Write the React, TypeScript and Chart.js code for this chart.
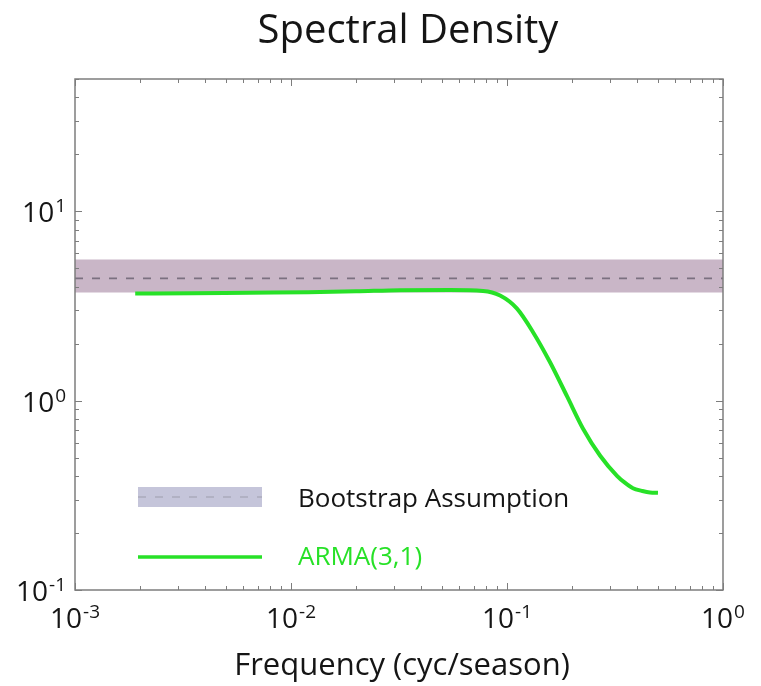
import React, { useEffect, useRef } from "react";
import { Chart, registerables } from "chart.js";

Chart.register(...registerables);

// ---- data ----
const X_MIN = 0.001;
const X_MAX = 1;
const Y_MIN = 0.1;
const Y_MAX = 50;

const xTickExponents = [-3, -2, -1, 0];
const yTickExponents = [-1, 0, 1];

const bootstrapLower = 3.73;
const bootstrapMean = 4.42;
const bootstrapUpper = 5.57;

const armaFreq = [0.0019, 0.0035, 0.00645, 0.012, 0.02, 0.032, 0.0545, 0.0775, 0.0929, 0.111, 0.132, 0.158, 0.19, 0.225, 0.27, 0.323, 0.35, 0.383, 0.42, 0.459, 0.5];
const armaValues = [3.68, 3.69, 3.72, 3.74, 3.78, 3.83, 3.84, 3.8, 3.59, 3.07, 2.3, 1.6, 1.05, 0.711, 0.512, 0.401, 0.37, 0.345, 0.334, 0.327, 0.326];

const titleText = "Spectral Density";
const xAxisTitle = "Frequency (cyc/season)";
const legendLabels = ["Bootstrap Assumption", "ARMA(3,1)"];

const FONT = "'Open Sans', 'DejaVu Sans', sans-serif";
const GREEN = "#27e127";
const BAND = "#c9b6c7";
const SWATCH = "#c5c5da";

function drawPow(ctx: CanvasRenderingContext2D, exp: number, xPos: number, baseline: number, align: "center" | "right") {
  const main = "10";
  const sup = String(exp);
  ctx.font = `28px ${FONT}`;
  const wMain = ctx.measureText(main).width;
  ctx.font = `19px ${FONT}`;
  const wSup = ctx.measureText(sup).width;
  const total = wMain + 1 + wSup;
  const start = align === "center" ? xPos - total / 2 : xPos - total;
  ctx.textAlign = "left";
  ctx.textBaseline = "alphabetic";
  ctx.fillStyle = "#151515";
  ctx.font = `28px ${FONT}`;
  ctx.fillText(main, start, baseline);
  ctx.font = `19px ${FONT}`;
  ctx.fillText(sup, start + wMain + 1, baseline - 10);
}

const decoPlugin = {
  id: "deco",
  afterDatasetsDraw(chart: any) {
    const { ctx, chartArea, scales } = chart;
    const { left, right, top, bottom } = chartArea;
    const xs = scales.x;
    const ys = scales.y;
    ctx.save();
    // frame
    ctx.strokeStyle = "#7d7d7d";
    ctx.lineWidth = 1.5;
    ctx.strokeRect(left, top, right - left, bottom - top);
    // x ticks
    ctx.lineWidth = 1;
    for (let e = -3; e <= 0; e++) {
      for (let m = 1; m <= 9; m++) {
        const v = m * Math.pow(10, e);
        if (v < X_MIN - 1e-12 || v > X_MAX + 1e-12) continue;
        const px = Math.round(xs.getPixelForValue(v)) + 0.5;
        const len = m === 1 ? 7 : 4;
        ctx.beginPath();
        ctx.moveTo(px, bottom);
        ctx.lineTo(px, bottom - len);
        ctx.moveTo(px, top);
        ctx.lineTo(px, top + len);
        ctx.stroke();
      }
    }
    // y ticks
    for (let e = -1; e <= 1; e++) {
      for (let m = 1; m <= 9; m++) {
        const v = m * Math.pow(10, e);
        if (v < Y_MIN - 1e-12 || v > Y_MAX + 1e-12) continue;
        const py = Math.round(ys.getPixelForValue(v)) + 0.5;
        const len = m === 1 ? 7 : 4;
        ctx.beginPath();
        ctx.moveTo(left, py);
        ctx.lineTo(left + len, py);
        ctx.moveTo(right, py);
        ctx.lineTo(right - len, py);
        ctx.stroke();
      }
    }
    // tick labels
    xTickExponents.forEach((e) => {
      drawPow(ctx, e, xs.getPixelForValue(Math.pow(10, e)), bottom + 38, "center");
    });
    yTickExponents.forEach((e) => {
      drawPow(ctx, e, left - 9, ys.getPixelForValue(Math.pow(10, e)) + 11, "right");
    });

    // legend
    const lx0 = left + 63;
    const lx1 = left + 187;
    ctx.fillStyle = SWATCH;
    ctx.fillRect(lx0, 487, lx1 - lx0, 20);
    ctx.strokeStyle = "#9d9dab";
    ctx.lineWidth = 1.2;
    ctx.setLineDash([8, 9]);
    ctx.beginPath();
    ctx.moveTo(lx0, 497);
    ctx.lineTo(lx1, 497);
    ctx.stroke();
    ctx.setLineDash([]);
    ctx.strokeStyle = GREEN;
    ctx.lineWidth = 3.5;
    ctx.beginPath();
    ctx.moveTo(lx0, 557);
    ctx.lineTo(lx1, 557);
    ctx.stroke();
    ctx.font = `26px ${FONT}`;
    ctx.textAlign = "left";
    ctx.textBaseline = "alphabetic";
    ctx.fillStyle = "#151515";
    ctx.fillText(legendLabels[0], left + 223, 507);
    ctx.fillStyle = GREEN;
    ctx.fillText(legendLabels[1], left + 223, 565);

    // titles
    ctx.fillStyle = "#151515";
    ctx.textAlign = "center";
    ctx.font = `40px ${FONT}`;
    ctx.fillText(titleText, 408, 43);
    ctx.font = `31px ${FONT}`;
    ctx.fillText(xAxisTitle, 402, 675);
    ctx.restore();
  },
};

export default function App() {
  const ref = useRef<HTMLCanvasElement>(null);
  useEffect(() => {
    if (!ref.current) return;
    const chart = new Chart(ref.current, {
      type: "line",
      data: {
        datasets: [
          {
            label: "lower",
            data: [{ x: X_MIN, y: bootstrapLower }, { x: X_MAX, y: bootstrapLower }],
            borderWidth: 0,
            pointRadius: 0,
            fill: false,
            order: 3,
          },
          {
            label: legendLabels[0],
            data: [{ x: X_MIN, y: bootstrapUpper }, { x: X_MAX, y: bootstrapUpper }],
            borderWidth: 0,
            pointRadius: 0,
            backgroundColor: BAND,
            fill: "-1",
            order: 2,
          },
          {
            label: "mean",
            data: [{ x: X_MIN, y: bootstrapMean }, { x: X_MAX, y: bootstrapMean }],
            borderColor: "#7b7080",
            borderWidth: 1.8,
            borderDash: [8, 9],
            pointRadius: 0,
            fill: false,
            order: 1,
          },
          {
            label: legendLabels[1],
            data: armaFreq.map((f, i) => ({ x: f, y: armaValues[i] })),
            borderColor: GREEN,
            borderWidth: 4,
            pointRadius: 0,
            cubicInterpolationMode: "monotone",
            fill: false,
            order: 0,
          },
        ],
      },
      options: {
        animation: false,
        responsive: false,
        devicePixelRatio: 1,
        layout: { padding: { left: 75, right: 38, top: 79, bottom: 96 } },
        plugins: { legend: { display: false }, tooltip: { enabled: false }, title: { display: false } },
        scales: {
          x: {
            type: "logarithmic",
            min: X_MIN,
            max: X_MAX,
            display: true,
            grid: { display: false, drawTicks: false },
            border: { display: false },
            ticks: { display: false },
          },
          y: {
            type: "logarithmic",
            min: Y_MIN,
            max: Y_MAX,
            display: true,
            grid: { display: false, drawTicks: false },
            border: { display: false },
            ticks: { display: false },
          },
        },
      },
      plugins: [decoPlugin],
    });
    return () => chart.destroy();
  }, []);
  return (
    <div style={{ position: "fixed", left: 0, top: 0, width: 761, height: 686, background: "#fff" }}>
      <canvas ref={ref} width={761} height={686} style={{ display: "block" }} />
    </div>
  );
}
